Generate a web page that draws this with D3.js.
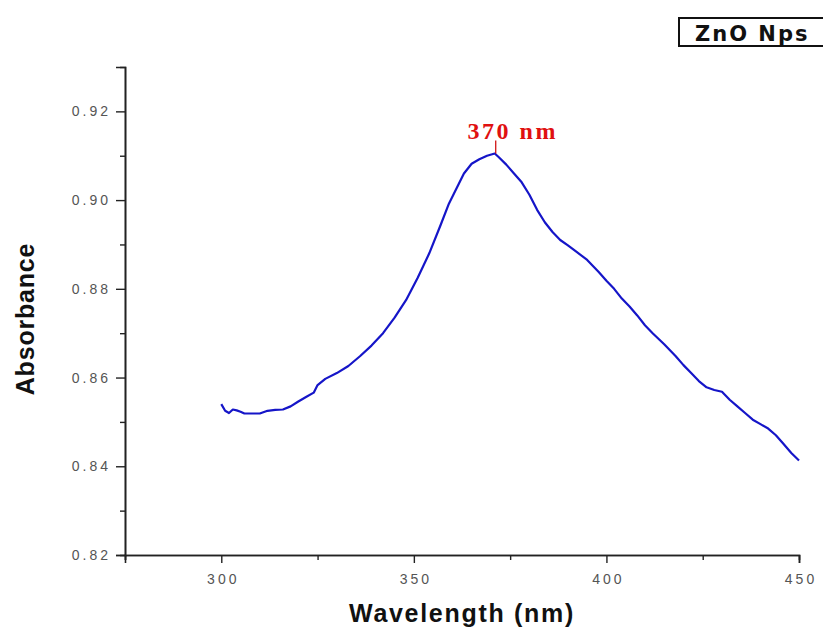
<!DOCTYPE html>
<html><head><meta charset="utf-8">
<script src="https://cdn.jsdelivr.net/npm/d3@7"></script>
<style>body{margin:0;background:#fff;} svg{display:block;}</style>
</head><body>
<svg id="c" width="823" height="628"></svg>
<script>
const wavelength = [300,301,302,303,304,305,306,308,310,312,314,316,318,320,322,324,325,327,330,333,336,339,342,345,348,351,354,357,359,361,363,365,367,369,371,372,374,376,378,380,382,384,386,388,390,392,395,398,400,402,404,406,408,410,412,415,418,420,422,424,426,428,430,432,434,436,438,440,442,444,446,448,450];
const absorbance = [0.8540,0.8525,0.8520,0.8528,0.8526,0.8523,0.8519,0.8519,0.8519,0.8525,0.8527,0.8528,0.8535,0.8546,0.8556,0.8566,0.8583,0.8597,0.8610,0.8626,0.8648,0.8672,0.8700,0.8735,0.8775,0.8825,0.8880,0.8945,0.8990,0.9025,0.9060,0.9082,0.9092,0.9100,0.9105,0.9097,0.9080,0.9060,0.9040,0.9012,0.8978,0.8950,0.8928,0.8910,0.8898,0.8885,0.8865,0.8838,0.8818,0.8800,0.8778,0.8760,0.8740,0.8718,0.8700,0.8675,0.8648,0.8628,0.8610,0.8592,0.8578,0.8572,0.8568,0.8550,0.8535,0.8520,0.8505,0.8495,0.8485,0.8470,0.8450,0.8430,0.8413];
const xMajor = [300,350,400,450];
const xMinor = [275,325,375,425];
const yMajor = [0.82,0.84,0.86,0.88,0.90,0.92];
const yMinor = [0.83,0.85,0.87,0.89,0.91];
const peak = {x:371, y:0.9105, label:"370 nm"};
const legendText = "ZnO Nps";

const svg = d3.select("#c");
const x = d3.scaleLinear().domain([275,450]).range([125,799]);
const y = d3.scaleLinear().domain([0.82,0.93]).range([555,67]);
const axisColor = "#222";

// Axes
const gx = svg.append("g").attr("transform","translate(0,555)");
gx.call(d3.axisBottom(x).tickValues(xMajor).tickSize(8).tickFormat(d3.format("d")).tickPadding(11));
gx.append("g").call(d3.axisBottom(x).tickValues(xMinor).tickSize(5).tickFormat(""));
const gy = svg.append("g").attr("transform","translate(125,0)");
gy.call(d3.axisLeft(y).tickValues(yMajor).tickSize(9).tickFormat(d3.format(".2f")).tickPadding(5));
gy.append("g").call(d3.axisLeft(y).tickValues(yMinor).tickSize(5).tickFormat(""));
svg.selectAll(".domain").attr("stroke",axisColor).attr("stroke-width",1.6);
svg.selectAll(".tick line").attr("stroke",axisColor).attr("stroke-width",1.4);
svg.selectAll(".tick text").attr("fill","#555").style("font-family","Liberation Sans, Arial, sans-serif")
  .style("font-size","14px").style("letter-spacing","3px");
gx.selectAll(".tick text").attr("dx","1.5");

// Line
const pts = wavelength.map((w,i)=>[w,absorbance[i]]);
svg.append("path").datum(pts)
  .attr("fill","none").attr("stroke","#1515c8").attr("stroke-width",2.2)
  .attr("stroke-linejoin","round")
  .attr("d", d3.line().x(d=>x(d[0])).y(d=>y(d[1])));

// Peak marker
svg.append("line").attr("x1",x(peak.x)+1).attr("x2",x(peak.x)+1)
  .attr("y1",y(peak.y)-13).attr("y2",y(peak.y)).attr("stroke","#c00").attr("stroke-width",1.2);
svg.append("text").attr("x",x(peak.x)+18).attr("y",y(peak.y)-15)
  .attr("text-anchor","middle").attr("fill","#e01010")
  .style("font-family","Liberation Serif, Times New Roman, serif").style("font-weight","bold")
  .style("font-size","24px").style("letter-spacing","2.5px").text(peak.label);

// Axis titles
svg.append("text").attr("x",462).attr("y",622).attr("text-anchor","middle")
  .style("font-family","Liberation Sans, Arial, sans-serif").style("font-weight","bold")
  .style("font-size","25px").style("letter-spacing","1.7px").attr("fill","#111").text("Wavelength (nm)");
svg.append("text").attr("transform","translate(34,319) rotate(-90)").attr("text-anchor","middle")
  .style("font-family","Liberation Sans, Arial, sans-serif").style("font-weight","bold")
  .style("font-size","25px").style("letter-spacing","0.8px").attr("fill","#111").text("Absorbance");

// Legend box
svg.append("rect").attr("x",679).attr("y",18).attr("width",160).attr("height",28)
  .attr("fill","#fff").attr("stroke","#111").attr("stroke-width",2);
svg.append("text").attr("x",695).attr("y",41)
  .style("font-family","DejaVu Sans, Verdana, sans-serif").style("font-weight","bold")
  .style("font-size","21px").style("letter-spacing","2px").attr("fill","#111").text(legendText);
</script>
</body></html>
